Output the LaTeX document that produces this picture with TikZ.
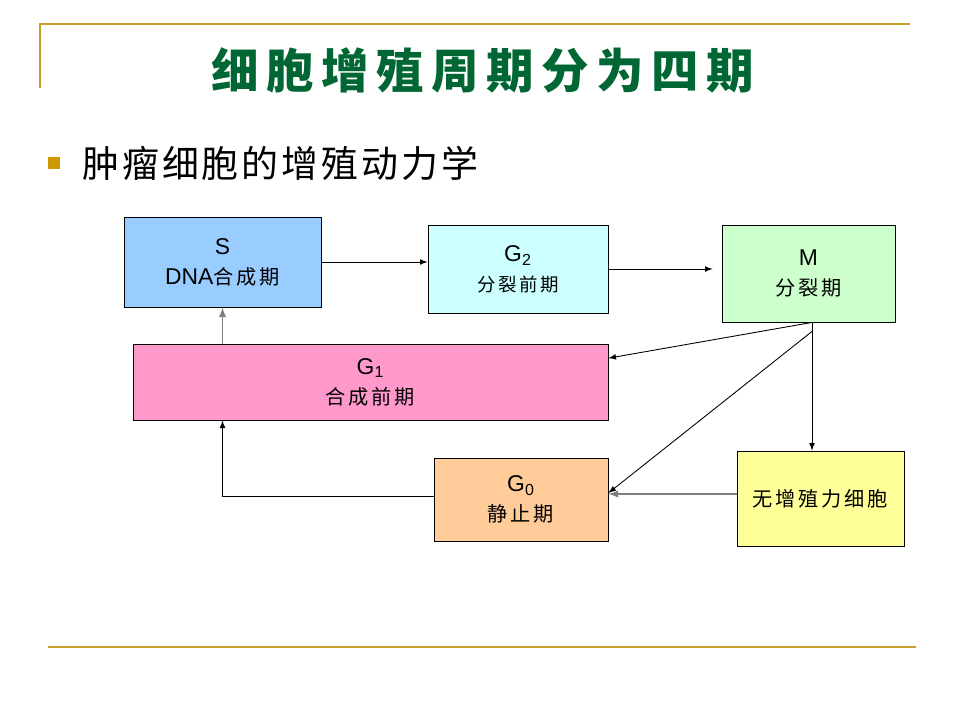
\documentclass[tikz,border=0pt]{standalone}
\usepackage{fontspec}
\setmainfont{Liberation Sans}
\newfontfamily\titlecjk{Noto Sans CJK SC}[LetterSpace=16]
\newfontfamily\bodycjk{Noto Sans CJK SC}[LetterSpace=8]
\newfontfamily\boxcjk{Noto Sans CJK SC}[LetterSpace=14]
\usetikzlibrary{arrows}
\usetikzlibrary{positioning}
\usetikzlibrary{calc}
\newlength\pxu
\setlength\pxu{0.2mm}
\definecolor{rulegold}{RGB}{198,160,40}
\definecolor{bulletgold}{RGB}{204,153,0}
\definecolor{titlegreen}{RGB}{0,102,51}
\definecolor{sblue}{RGB}{153,204,255}
\definecolor{gtwocyan}{RGB}{204,255,255}
\definecolor{mgreen}{RGB}{204,255,204}
\definecolor{gonepink}{RGB}{255,153,204}
\definecolor{gzeroorange}{RGB}{255,204,153}
\definecolor{restyellow}{RGB}{255,255,153}
\tikzset{
    phase/.style={draw=black, line width=0.5pt, inner sep=0pt, align=center,
        font=\fontsize{13}{17}\selectfont},
    flow/.style={draw=black, line width=0.5pt, ->, >=latex},
    flowgray/.style={draw=black!50, line width=0.9pt, ->, >=latex},
    goldrule/.style={draw=rulegold, line width=2\pxu},
}

\begin{document}
\begin{tikzpicture}[x=0.2mm, y=-0.2mm]
	\useasboundingbox (0,0) rectangle (960,720);
	% slide frame
	\draw[goldrule] (40,88) -- (40,24) -- (910,24);
	\draw[goldrule] (48,647) -- (916,647);
	\node[font=\titlecjk\bfseries\fontsize{27}{30}\selectfont, text=titlegreen] (title) at (483,70) {细胞增殖周期分为四期};
	\node[fill=bulletgold, minimum size=12\pxu, inner sep=0pt] (bullet) at (54,163) {};
	\node[font=\bodycjk\fontsize{21}{24}\selectfont, anchor=west, inner sep=0pt] (heading) at (82,163) {肿瘤细胞的增殖动力学};
	% cell cycle phases
	\node[phase, fill=sblue, minimum width=197\pxu, minimum height=90\pxu] (S) at (222.5,262) {S\\DNA{\boxcjk\fontsize{11.5}{17}\selectfont 合成期}};
	\node[phase, fill=gtwocyan, minimum width=180\pxu, minimum height=88\pxu] (G2) at (518,269) {G\textsubscript{2}\\{\boxcjk\fontsize{10.5}{17}\selectfont 分裂前期}};
	\node[phase, fill=mgreen, minimum width=173\pxu, minimum height=97\pxu] (M) at (808.5,273.5) {M\\{\boxcjk\fontsize{11.5}{17}\selectfont 分裂期}};
	\node[phase, fill=gonepink, minimum width=475\pxu, minimum height=76\pxu] (G1) at (370.5,382) {G\textsubscript{1}\\{\boxcjk\fontsize{11.5}{17}\selectfont 合成前期}};
	\node[phase, fill=gzeroorange, minimum width=174\pxu, minimum height=83\pxu] (G0) at (521,499.5) {G\textsubscript{0}\\{\boxcjk\fontsize{11.5}{17}\selectfont 静止期}};
	\node[phase, fill=restyellow, minimum width=167\pxu, minimum height=95\pxu] (rest) at (820.5,498.5) {{\boxcjk\fontsize{11.5}{17}\selectfont 无增殖力细胞}};
	% transitions
	\draw[flow] (S) -- (S -| G2.west);
	\draw[flow, shorten >=9\pxu] (G2) -- (G2 -| M.west);
	\draw[flow] (M.south -| 812,0) -- ($(G1.north east)!0.19!(G1.south east)$);
	\draw[flow] ($(M.south -| 812,0)+(0,9)$) -- (G0.east |- 0,493);
	\draw[flow] (M.south -| 812,0) -- (rest.north -| 812,0);
	\draw[flowgray] (rest.west |- 0,494) -- (G0.east |- 0,494);
	\draw[flow] (G0.west |- 0,496) -| (G1.south -| S.south);
	\draw[flowgray] (G1.north -| S.south) -- (S.south);
\end{tikzpicture}
\end{document}
